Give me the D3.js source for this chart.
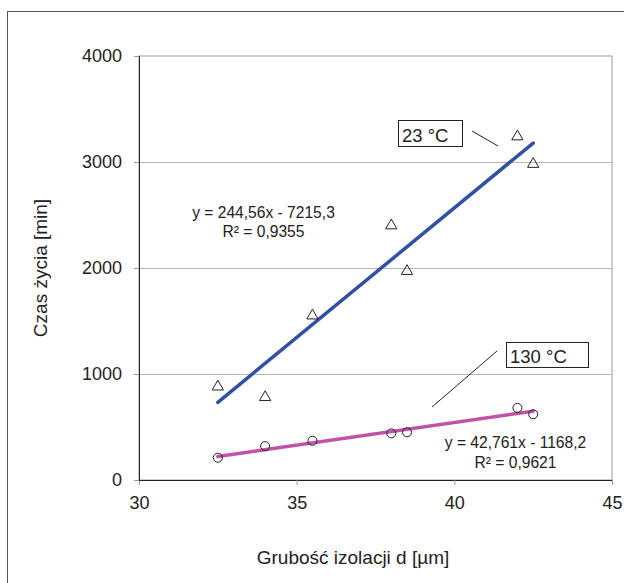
<!DOCTYPE html>
<html>
<head>
<meta charset="utf-8">
<script src="https://cdn.jsdelivr.net/npm/d3@7"></script>
<style>
  html, body { margin: 0; padding: 0; background: #fff; }
  svg { display: block; font-family: Arial, "Liberation Sans", sans-serif; }
</style>
</head>
<body>
<div id="chart"></div>
<script>
// grubość izolacji [µm]
const thickness = [32.5, 34, 35.5, 38, 38.5, 42, 42.5]
// czas życia [min]
const life23 = [880, 780, 1550, 2400, 1970, 3240, 2980]
const life130 = [210, 320, 370, 440, 450, 680, 620]

const fit23 = { a: 244.56, b: -7215.3, r2: '0,9355', eq: 'y = 244,56x - 7215,3' }
const fit130 = { a: 42.761, b: -1168.2, r2: '0,9621', eq: 'y = 42,761x - 1168,2' }

const xTicks = [30, 35, 40, 45]
const yTicks = [0, 1000, 2000, 3000, 4000]
const gridTicks = [1000, 2000, 3000]

const W = 624, H = 583
const margin = { top: 56, right: 12, bottom: 103, left: 139 }
const FONT = 'Arial, "Liberation Sans", sans-serif'

const svg = d3.select('#chart').append('svg')
  .attr('width', W).attr('height', H)

// outer chart frame
svg.append('rect')
  .attr('x', 7.5).attr('y', 11.5)
  .attr('width', W).attr('height', H)
  .attr('fill', 'none').attr('stroke', '#555').attr('stroke-width', 1)

const x = d3.scaleLinear().domain([30, 45]).range([margin.left, W - margin.right])
const y = d3.scaleLinear().domain([0, 4000]).range([H - margin.bottom, margin.top])

// plot area border (gray)
svg.append('rect')
  .attr('x', x(30)).attr('y', y(4000))
  .attr('width', x(45) - x(30)).attr('height', y(0) - y(4000))
  .attr('fill', 'none').attr('stroke', '#999').attr('stroke-width', 1)

// gridlines
svg.append('g')
  .selectAll('line')
  .data(gridTicks)
  .join('line')
  .attr('x1', x(30)).attr('x2', x(45))
  .attr('y1', d => Math.round(y(d)) + 0.5).attr('y2', d => Math.round(y(d)) + 0.5)
  .attr('stroke', '#b4b4b4').attr('stroke-width', 1)

// axes
svg.append('g')
  .attr('transform', `translate(0,${y(0)})`)
  .call(d3.axisBottom(x).tickValues(xTicks).tickSize(5).tickPadding(11).tickFormat(d => d))
  .call(g => {
    g.select('.domain').attr('stroke', '#222')
    g.selectAll('.tick line').attr('stroke', '#999')
    g.selectAll('.tick text').attr('fill', '#222').attr('font-size', '18px')
      .attr('font-family', FONT)
  })

svg.append('g')
  .attr('transform', `translate(${x(30)},0)`)
  .call(d3.axisLeft(y).tickValues(yTicks).tickSize(5).tickPadding(12).tickFormat(d => d))
  .call(g => {
    g.select('.domain').attr('stroke', '#222')
    g.selectAll('.tick line').attr('stroke', '#999')
    g.selectAll('.tick text').attr('fill', '#222').attr('font-size', '18px')
      .attr('font-family', FONT)
  })

// axis titles
svg.append('text')
  .attr('x', 353).attr('y', 564)
  .attr('text-anchor', 'middle')
  .attr('fill', '#222').attr('font-size', '19px')
  .text('Grubość izolacji d [µm]')

svg.append('text')
  .attr('transform', `translate(47,${(y(0) + y(4000)) / 2}) rotate(-90)`)
  .attr('text-anchor', 'middle')
  .attr('fill', '#222').attr('font-size', '19px')
  .text('Czas życia [min]')

// trend lines
const x0 = d3.min(thickness), x1 = d3.max(thickness)
const trends = [
  { fit: fit23, color: '#3050a4' },
  { fit: fit130, color: '#c052a8' },
]
trends.forEach(t => {
  svg.append('line')
    .attr('x1', x(x0)).attr('y1', y(t.fit.a * x0 + t.fit.b))
    .attr('x2', x(x1)).attr('y2', y(t.fit.a * x1 + t.fit.b))
    .attr('stroke', t.color).attr('stroke-width', 3.5)
    .attr('stroke-linecap', 'round')
})

// markers: triangles for 23 °C, circles for 130 °C
const tri = d3.symbol().type(d3.symbolTriangle).size(55)
svg.append('g')
  .selectAll('path')
  .data(thickness.map((t, i) => [t, life23[i]]))
  .join('path')
  .attr('d', tri)
  .attr('transform', d => `translate(${x(d[0])},${y(d[1])})`)
  .attr('fill', 'none').attr('stroke', '#222').attr('stroke-width', 1)

svg.append('g')
  .selectAll('circle')
  .data(thickness.map((t, i) => [t, life130[i]]))
  .join('circle')
  .attr('cx', d => x(d[0])).attr('cy', d => y(d[1]))
  .attr('r', 4.5)
  .attr('fill', 'none').attr('stroke', '#222').attr('stroke-width', 1)

// equation labels
function eqLabel(cx, cy, dy, fit) {
  const g = svg.append('text')
    .attr('text-anchor', 'middle')
    .attr('fill', '#222').attr('font-size', '15.6px')
  g.append('tspan').attr('x', cx).attr('y', cy).text(fit.eq)
  g.append('tspan').attr('x', cx).attr('y', cy + dy).text('R² = ' + fit.r2)
}
eqLabel(263.5, 218, 19, fit23)
eqLabel(515.5, 448, 20, fit130)

// series labels with leader lines
function boxLabel(bx, by, bw, bh, label, tb, lx1, ly1, lx2, ly2) {
  svg.append('line')
    .attr('x1', lx1).attr('y1', ly1).attr('x2', lx2).attr('y2', ly2)
    .attr('stroke', '#222').attr('stroke-width', 1)
  svg.append('rect')
    .attr('x', bx + 0.5).attr('y', by + 0.5).attr('width', bw).attr('height', bh)
    .attr('fill', '#fff').attr('stroke', '#222').attr('stroke-width', 1)
  svg.append('text')
    .attr('x', bx + 4).attr('y', tb)
    .attr('fill', '#222').attr('font-size', '18.5px')
    .text(label)
}
boxLabel(398, 120, 64, 26, '23 °C', 142, 472, 131, 498, 146)
boxLabel(506, 342, 82, 25, '130 °C', 363, 497, 351, 432, 407)
</script>
</body>
</html>
